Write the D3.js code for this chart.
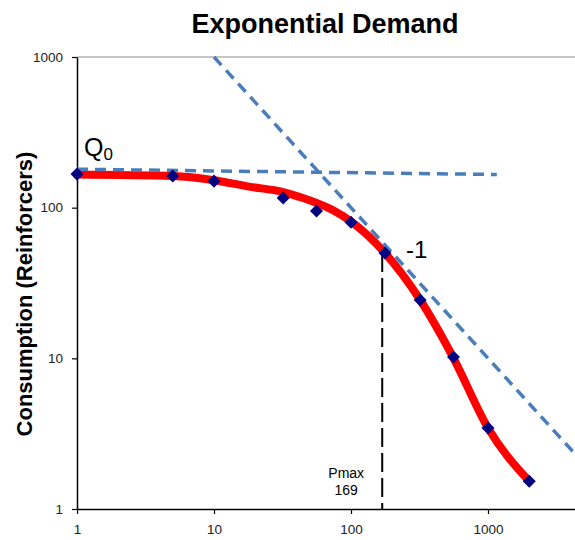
<!DOCTYPE html>
<html>
<head>
<meta charset="utf-8">
<script src="https://cdn.jsdelivr.net/npm/d3@7"></script>
<style>
  body { margin: 0; background: #fff; }
  svg { display: block; font-family: "Liberation Sans", Arial, sans-serif; }
</style>
</head>
<body>
<div id="chart"></div>
<script>
const w = 575;
const h = 540;

// observed points
const price = [1, 5, 10, 32, 56, 100, 177, 320, 560, 1000, 2000];
const consumption = [167, 162, 150, 116, 95, 80, 50, 24.4, 10.2, 3.45, 1.53];

// fitted demand curve
const curvePrice = [1, 5, 10, 18, 32, 42, 74, 100, 177, 320, 555, 1000, 2000];
const curveCons = [166, 162, 152, 138, 127, 118, 96, 81, 50, 24.4, 10.2, 3.45, 1.53];

// guide lines
const q0Line = [[1, 180], [1160, 166]];
const slopeLine = [[10, 1000], [4300, 2.33]];
const pmax = 169;
const pmaxTop = 50;

const tickVals = [1, 10, 100, 1000];

const svg = d3.select("#chart").append("svg")
    .attr("width", w).attr("height", h);

const x = d3.scaleLog().domain([1, 1000]).range([77, 488]);
x.domain([1, x.invert(w)]).range([77, w]);
const y = d3.scaleLog().domain([1, 1000]).range([509, 57]);

// title
svg.append("text")
    .attr("x", 325).attr("y", 33)
    .attr("text-anchor", "middle")
    .style("font-size", "27px").style("font-weight", "bold")
    .text("Exponential Demand");

// y label
svg.append("text")
    .attr("transform", "translate(32,294) rotate(-90)")
    .attr("text-anchor", "middle")
    .style("font-size", "22px").style("font-weight", "bold")
    .text("Consumption (Reinforcers)");

// top border line
svg.append("line")
    .attr("x1", x(1)).attr("x2", w)
    .attr("y1", y(1000)).attr("y2", y(1000))
    .attr("stroke", "#b3b3b3").attr("stroke-width", 1.5);

// axes
const yAxis = svg.append("g")
    .attr("transform", "translate(" + x(1) + ",0)")
    .call(d3.axisLeft(y).tickValues(tickVals).tickFormat(d3.format("d")).tickSize(5).tickSizeOuter(0));
const xAxis = svg.append("g")
    .attr("transform", "translate(0," + y(1) + ")")
    .call(d3.axisBottom(x).tickValues(tickVals).tickFormat(d3.format("d")).tickSize(5).tickSizeOuter(0));

[yAxis, xAxis].forEach(function(g) {
    g.select(".domain").attr("stroke", "#000").attr("stroke-width", 1.5);
    g.selectAll(".tick line").attr("stroke", "#000").attr("stroke-width", 1.2);
    g.selectAll(".tick text")
        .style("font-size", "13.5px")
        .style("font-family", "Liberation Sans, Arial, sans-serif")
        .attr("fill", "#222");
});
yAxis.selectAll(".tick text").attr("x", -14);
xAxis.selectAll(".tick text").attr("y", 15);

// fitted curve
const line = d3.line()
    .x(function(d) { return x(d[0]); })
    .y(function(d) { return y(d[1]); })
    .curve(d3.curveMonotoneX);

svg.append("path")
    .datum(curvePrice.map(function(p, i) { return [p, curveCons[i]]; }))
    .attr("d", line)
    .attr("fill", "none")
    .attr("stroke", "#ff0000")
    .attr("stroke-width", 8)
    .attr("stroke-linecap", "round")
    .attr("stroke-linejoin", "round");

// dashed guides
const straight = d3.line()
    .x(function(d) { return x(d[0]); })
    .y(function(d) { return y(d[1]); });

[q0Line, slopeLine].forEach(function(l) {
    svg.append("path")
        .attr("d", straight(l))
        .attr("fill", "none")
        .attr("stroke", "#4a7ebb")
        .attr("stroke-width", 3.5)
        .attr("stroke-dasharray", "11,7");
});

// pmax marker
svg.append("line")
    .attr("x1", x(pmax)).attr("x2", x(pmax))
    .attr("y1", y(pmaxTop)).attr("y2", y(1))
    .attr("stroke", "#000")
    .attr("stroke-width", 2)
    .attr("stroke-dasharray", "19,6");

// data points
svg.selectAll("path.pt")
    .data(price.map(function(p, i) { return [p, consumption[i]]; }))
    .enter()
    .append("path")
    .attr("class", "pt")
    .attr("d", d3.symbol().type(d3.symbolSquare).size(85))
    .attr("transform", function(d) { return "translate(" + x(d[0]) + "," + y(d[1]) + ") rotate(45)"; })
    .attr("fill", "#000080");

// annotations
const q0 = svg.append("text")
    .attr("x", 84).attr("y", 156)
    .style("font-size", "25px");
q0.append("tspan").text("Q");
q0.append("tspan").attr("dy", 4).style("font-size", "17px").text("0");

svg.append("text")
    .attr("x", 406).attr("y", 258)
    .style("font-size", "24px")
    .text("-1");

svg.append("text")
    .attr("x", x(pmax) - 36).attr("y", 478)
    .attr("text-anchor", "middle")
    .style("font-size", "14px")
    .text("Pmax");
svg.append("text")
    .attr("x", x(pmax) - 36).attr("y", 495)
    .attr("text-anchor", "middle")
    .style("font-size", "14px")
    .text("169");
</script>
</body>
</html>
